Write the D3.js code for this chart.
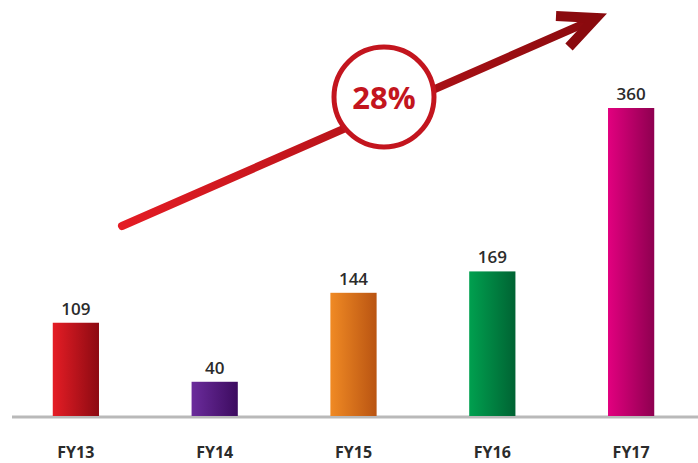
<!DOCTYPE html>
<html><head><meta charset="utf-8">
<script src="https://cdn.jsdelivr.net/npm/d3@7"></script>
<style>body{margin:0;background:#fff}svg{display:block}</style>
</head><body>
<svg id="c" width="698" height="463"></svg>
<script>
const categories = ["FY13","FY14","FY15","FY16","FY17"];
const values = [109, 40, 144, 169, 360];
const colorsLight = ["#e51d25","#6b2c9c","#f08a24","#00a04f","#e2007f"];
const colorsDark  = ["#8c0a12","#3c0b5f","#b95412","#006333","#8e0050"];
const growthLabel = "28%";

const svg = d3.select("#c");
const x = d3.scaleBand().domain(categories).range([25, 682]).paddingInner(0.667).paddingOuter(0.2);
const y = d3.scaleLinear().domain([0, 360]).range([416, 108]);

const defs = svg.append("defs");
categories.forEach((c,i)=>{
  const g = defs.append("linearGradient").attr("id","g"+i).attr("x1","0").attr("x2","1").attr("y1","0").attr("y2","0");
  g.append("stop").attr("offset","0").attr("stop-color",colorsLight[i]);
  g.append("stop").attr("offset","1").attr("stop-color",colorsDark[i]);
});
const ag = defs.append("linearGradient").attr("id","ag").attr("gradientUnits","userSpaceOnUse")
  .attr("x1",120).attr("y1",227).attr("x2",597).attr("y2",17);
ag.append("stop").attr("offset","0").attr("stop-color","#e41c24");
ag.append("stop").attr("offset","1").attr("stop-color","#8a0a0e");

// baseline
svg.append("line").attr("x1",12).attr("x2",698).attr("y1",y(0)+1).attr("y2",y(0)+1)
  .attr("stroke","#b9b9b9").attr("stroke-width",3);

// bars
svg.selectAll("rect.bar").data(values).enter().append("rect").attr("class","bar")
  .attr("x",(d,i)=>x(categories[i])).attr("width",x.bandwidth())
  .attr("y",d=>y(d)).attr("height",d=>y(0)-y(d))
  .attr("fill",(d,i)=>"url(#g"+i+")");

// value labels
svg.selectAll("text.val").data(values).enter().append("text").attr("class","val")
  .attr("x",(d,i)=>x(categories[i])+x.bandwidth()/2).attr("y",d=>y(d)-8)
  .attr("text-anchor","middle").attr("font-family","Open Sans, sans-serif")
  .attr("font-weight","600").attr("font-size",17).attr("fill","#2b2b2b").text(d=>d);

// category axis labels
const axis = d3.axisBottom(x).tickSize(0).tickPadding(0);
const ax = svg.append("g").attr("transform",`translate(0,${y(0)})`).call(axis);
ax.select(".domain").remove();
ax.selectAll("text").attr("y",42).attr("dy",0).attr("font-family","Open Sans, sans-serif")
  .attr("font-weight","700").attr("font-size",16).attr("fill","#2b2b2b");

// growth arrow annotation
svg.append("line").attr("x1",122).attr("y1",226).attr("x2",590).attr("y2",21)
  .attr("stroke","url(#ag)").attr("stroke-width",8).attr("stroke-linecap","round");
svg.append("path").attr("d","M556,16 L596,18 L569,47").attr("fill","none")
  .attr("stroke","#8a0a0e").attr("stroke-width",10).attr("stroke-linejoin","miter").attr("stroke-linecap","butt");
svg.append("circle").attr("cx",384).attr("cy",97).attr("r",50)
  .attr("fill","#fff").attr("stroke","#c3151e").attr("stroke-width",5);
svg.append("text").attr("x",384).attr("y",109).attr("text-anchor","middle")
  .attr("font-family","Open Sans, sans-serif").attr("font-weight","700").attr("font-size",31)
  .attr("fill","#c3151e").text(growthLabel);
</script>
</body></html>
